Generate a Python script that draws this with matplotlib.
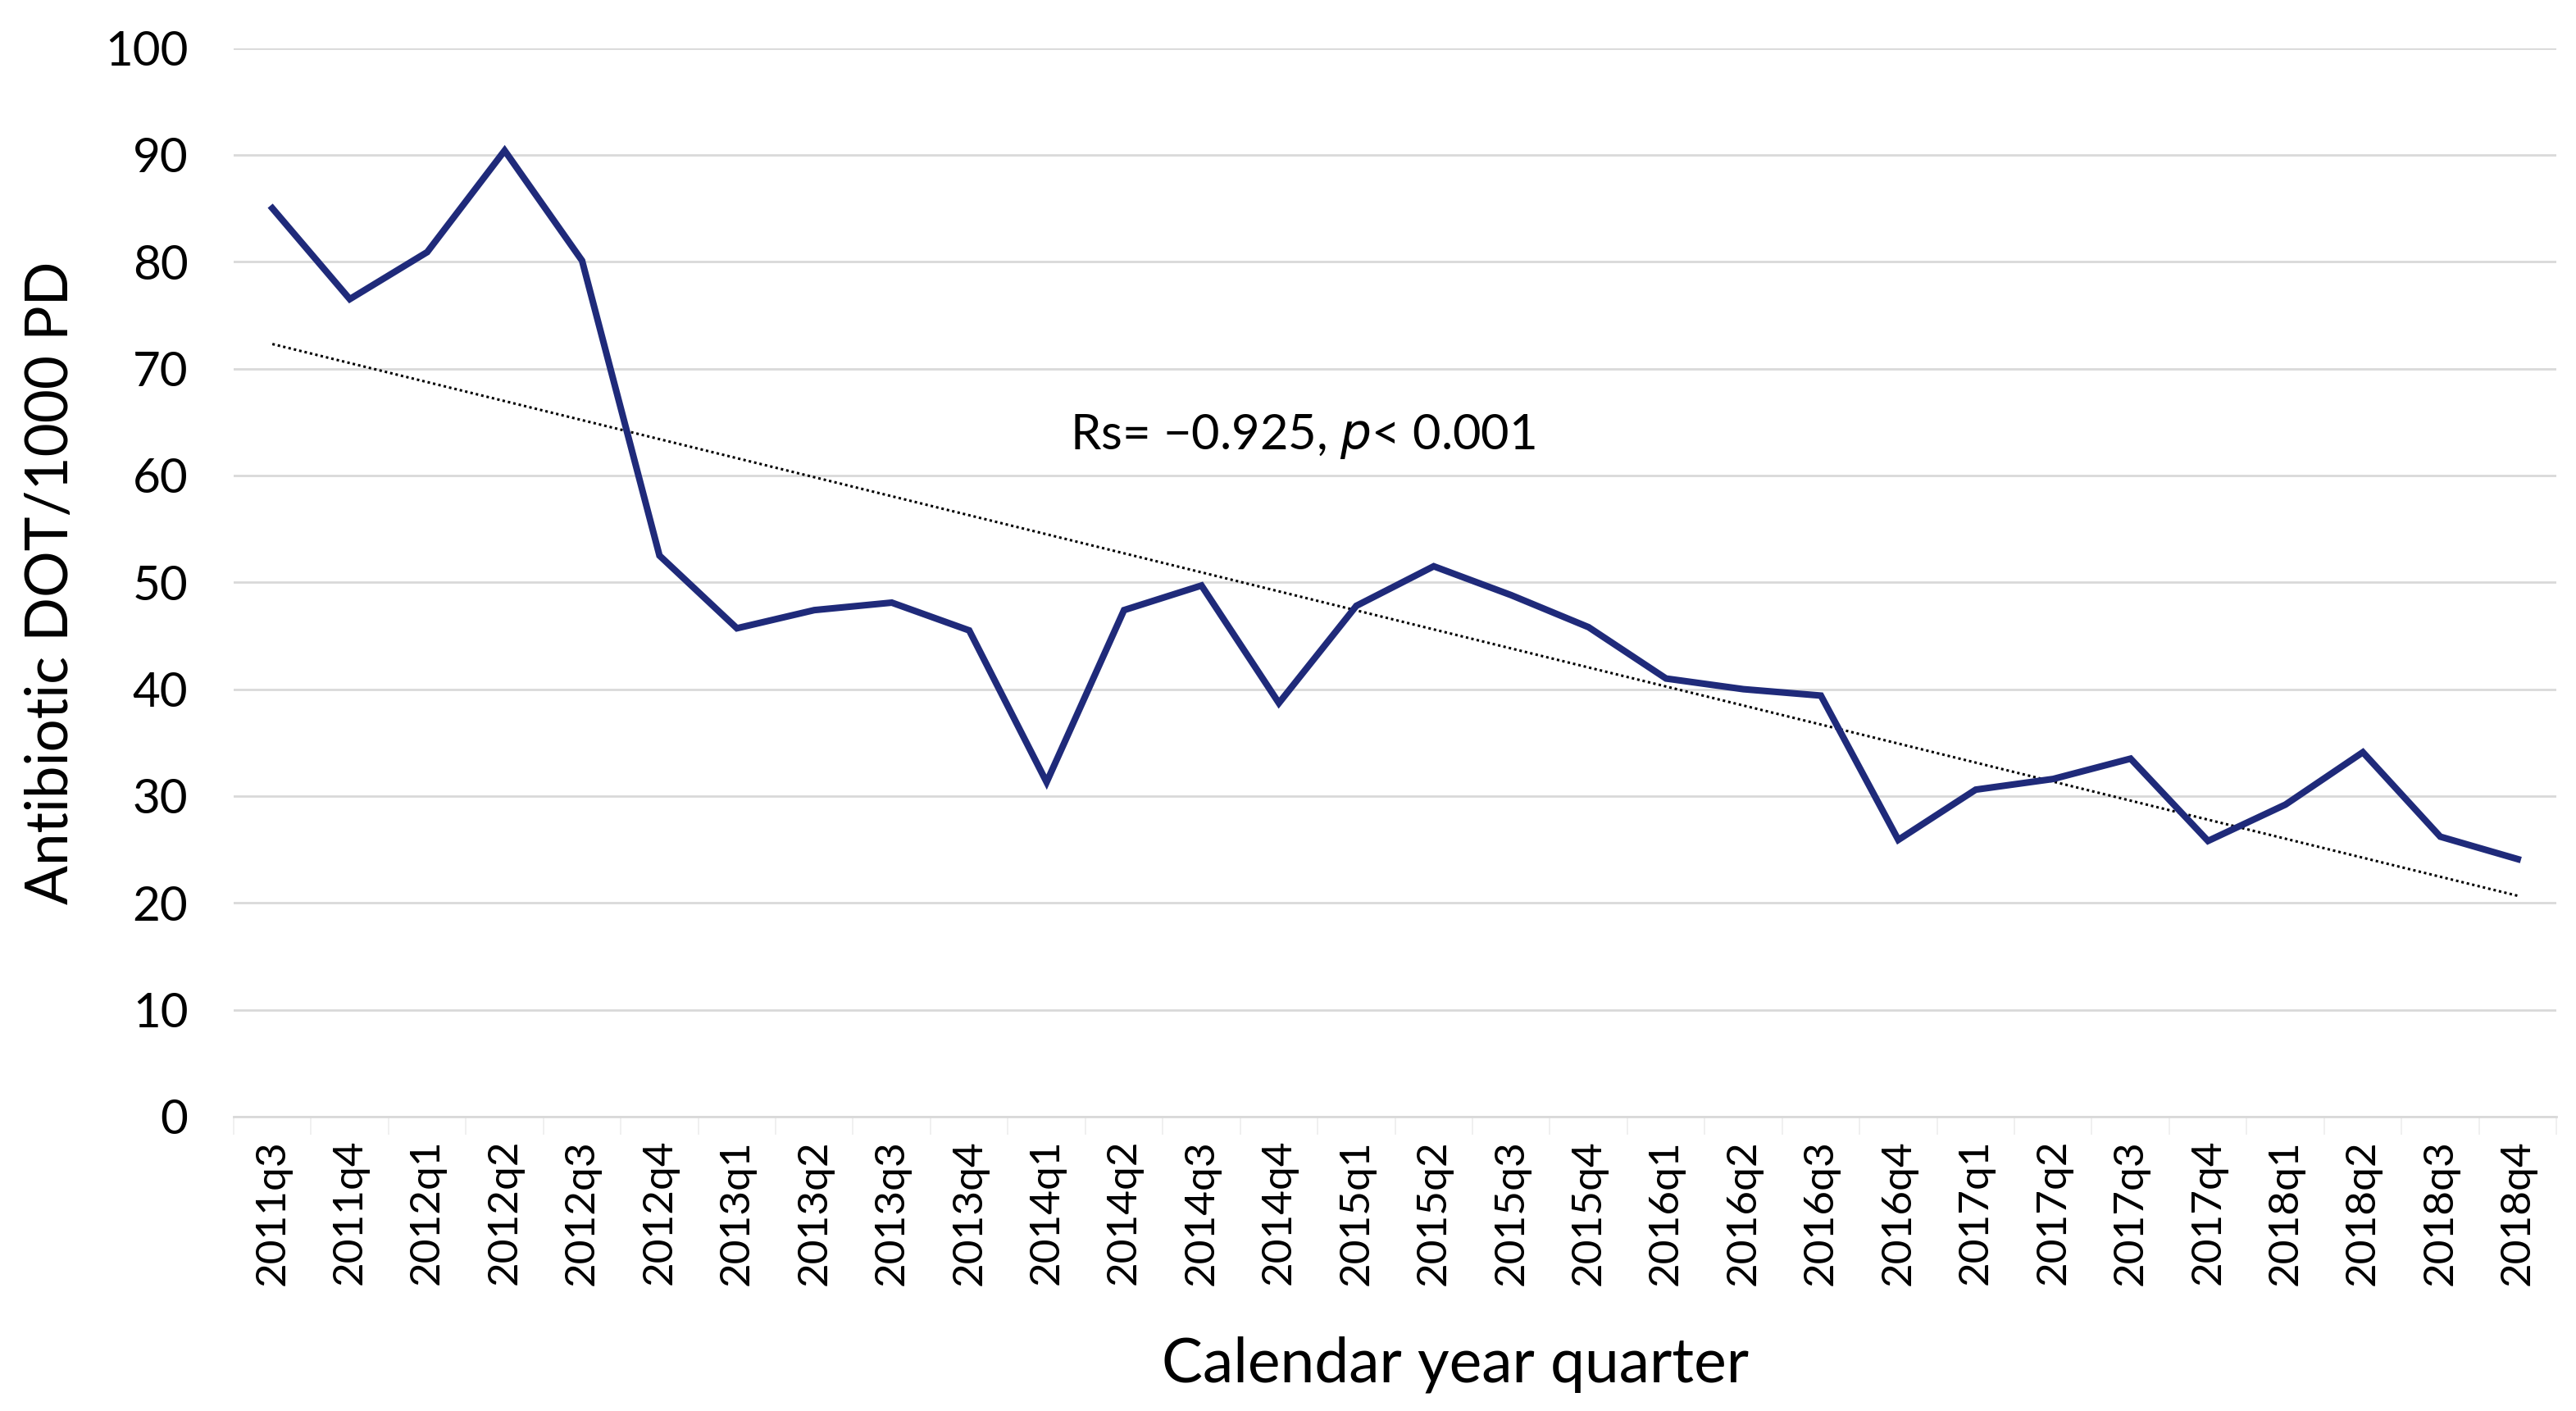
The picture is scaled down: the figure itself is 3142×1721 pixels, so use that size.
import numpy as np
import matplotlib
matplotlib.use("Agg")
import matplotlib.pyplot as plt
from matplotlib.ticker import FixedLocator

# ── Data ──────────────────────────────────────────────────────────────────────
quarters = ["2011q3", "2011q4",
            "2012q1", "2012q2", "2012q3", "2012q4",
            "2013q1", "2013q2", "2013q3", "2013q4",
            "2014q1", "2014q2", "2014q3", "2014q4",
            "2015q1", "2015q2", "2015q3", "2015q4",
            "2016q1", "2016q2", "2016q3", "2016q4",
            "2017q1", "2017q2", "2017q3", "2017q4",
            "2018q1", "2018q2", "2018q3", "2018q4"]

dot_per_1000pd = [85.0, 76.5,
                  80.9, 90.4, 80.1, 52.5,
                  45.7, 47.4, 48.1, 45.5,
                  31.3, 47.4, 49.7, 38.7,
                  47.8, 51.5, 48.8, 45.8,
                  41.0, 40.0, 39.4, 25.9,
                  30.6, 31.6, 33.5, 25.8,
                  29.2, 34.1, 26.2, 24.1]

y_ticks = [0, 10, 20, 30, 40, 50, 60, 70, 80, 90, 100]

LINE_COLOR = "#1f2a7a"
GRID_COLOR = "#d9d9d9"

plt.rcParams["font.family"] = ["Lato", "DejaVu Sans"]

fig = plt.figure(figsize=(15.71, 8.605), dpi=200)
ax = fig.add_axes([0.0907, 0.2086, 0.9017, 0.7574])

x = np.arange(len(quarters))
y = np.array(dot_per_1000pd)

# linear trendline (Excel-style)
slope, intercept = np.polyfit(x, y, 1)
ax.plot(x, slope * x + intercept, color="black", lw=1.1, ls=(0, (1, 1.2)), zorder=2)

ax.plot(x, y, color=LINE_COLOR, lw=2.9, solid_joinstyle="miter", zorder=3)

ax.set_xlim(-0.5, len(quarters) - 0.5)
ax.set_ylim(0, 100)
ax.set_yticks(y_ticks)
ax.set_xticks(x)
ax.set_xticklabels(quarters, rotation=90, fontsize=18.5)
ax.xaxis.set_minor_locator(FixedLocator(np.arange(len(quarters) + 1) - 0.5))
ax.tick_params(axis="x", which="major", length=0, pad=10)
ax.tick_params(axis="x", which="minor", length=8, width=0.6, color="#eeeeee")
ax.tick_params(axis="y", length=0, labelsize=21, pad=20)

ax.grid(axis="y", color=GRID_COLOR, lw=1.0)
ax.set_axisbelow(True)
for s in ["top", "right", "left"]:
    ax.spines[s].set_visible(False)
ax.spines["bottom"].set_color(GRID_COLOR)
ax.spines["bottom"].set_linewidth(1.0)

ax.set_ylabel("Antibiotic DOT/1000 PD", fontsize=25.5, labelpad=12)
ax.set_xlabel("Calendar year quarter", fontsize=27, labelpad=18)
ax.xaxis.set_label_coords(0.526, -0.205)

ax.text(10.3, 63.6, r"Rs= −0.925, $\it{p}$< 0.001", fontsize=21.5,
        va="center", ha="left")

fig.savefig("out.png", dpi=200)
